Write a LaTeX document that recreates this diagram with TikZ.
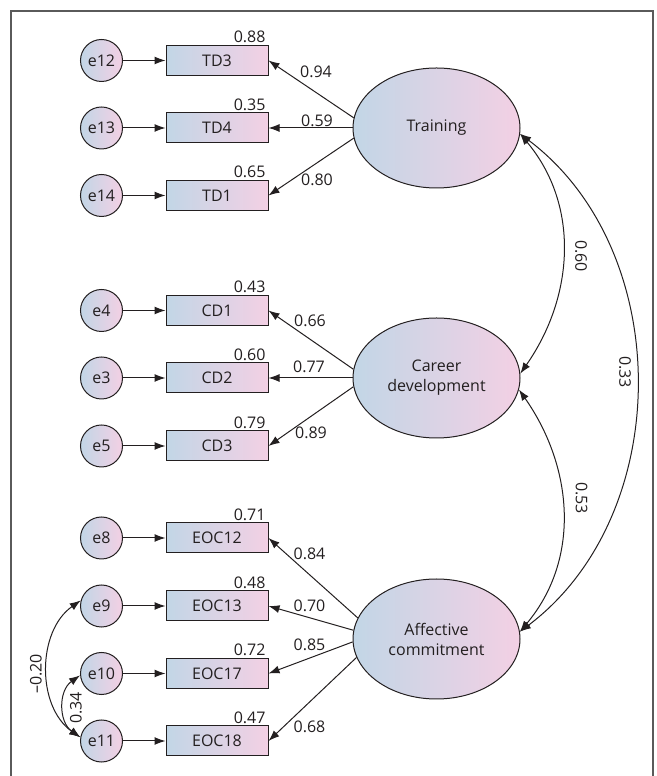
\documentclass[tikz,border=0pt]{standalone}
\usepackage{fontspec}
\setmainfont{Open Sans}
\usepackage{xcolor}
\usepackage{tikz}
\usetikzlibrary{shapes.geometric, arrows.meta}

\definecolor{semblue}{RGB}{194,214,230}
\definecolor{sempink}{RGB}{243,208,228}
\definecolor{semline}{RGB}{35,31,32}
\definecolor{semframe}{RGB}{90,90,90}

\begin{document}
\begin{tikzpicture}[x=1pt, y=1pt, >={Latex[length=11pt,width=8pt]},
    color=semline, line width=1pt, font=\fontsize{16}{20}\selectfont,
    err/.style={circle, draw, minimum size=42pt, inner sep=0pt, left color=semblue, right color=sempink},
    obs/.style={draw, minimum width=102pt, minimum height=30pt, inner sep=0pt, left color=semblue, right color=sempink},
    lat/.style={ellipse, draw, minimum width=167pt, minimum height=120pt, inner sep=0pt, align=center, left color=semblue, right color=sempink},
    est/.style={inner sep=0pt},
    rsq/.style={anchor=south east, inner sep=1.5pt, xshift=-1pt}]
    \useasboundingbox (0,0) rectangle (656,776);
    % 1. Khung
    \draw[semframe, line width=1.4pt] (11,-5) -- (11,765) -- (653,765) -- (653,-5);

    % 2. Bien tiem an
    \node[lat] (tr) at (436.5,648) {Training};
    \node[lat] (cd) at (436.5,398) {Career\\development};
    \node[lat] (ac) at (436.5,137) {Affective\\commitment};

    % 3. Bien quan sat va sai so
    \node[obs] (td3) at (217,715.5) {TD3};
    \node[obs] (td4) at (217,648) {TD4};
    \node[obs] (td1) at (217,580.5) {TD1};
    \node[obs] (cd1) at (217,465.5) {CD1};
    \node[obs] (cd2) at (217,398) {CD2};
    \node[obs] (cd3) at (217,330) {CD3};
    \node[obs] (eoc12) at (217,238) {EOC12};
    \node[obs] (eoc13) at (217,170) {EOC13};
    \node[obs] (eoc17) at (217,102.5) {EOC17};
    \node[obs] (eoc18) at (217,35) {EOC18};

    \node[err] (e12) at (101.5,715.5) {e12};
    \node[err] (e13) at (101.5,648) {e13};
    \node[err] (e14) at (101.5,580.5) {e14};
    \node[err] (e4) at (101.5,465.5) {e4};
    \node[err] (e3) at (101.5,398) {e3};
    \node[err] (e5) at (101.5,330) {e5};
    \node[err] (e8) at (101.5,238) {e8};
    \node[err] (e9) at (101.5,170) {e9};
    \node[err] (e10) at (101.5,102.5) {e10};
    \node[err] (e11) at (101.5,35) {e11};

    \draw[->] (e12) -- (td3);
    \draw[->] (e13) -- (td4);
    \draw[->] (e14) -- (td1);
    \draw[->] (e4) -- (cd1);
    \draw[->] (e3) -- (cd2);
    \draw[->] (e5) -- (cd3);
    \draw[->] (e8) -- (eoc12);
    \draw[->] (e9) -- (eoc13);
    \draw[->] (e10) -- (eoc17);
    \draw[->] (e11) -- (eoc18);

    % 4. He so R binh phuong
    \node[rsq] (r-td3) at (td3.north east) {0.88};
    \node[rsq] (r-td4) at (td4.north east) {0.35};
    \node[rsq] (r-td1) at (td1.north east) {0.65};
    \node[rsq] (r-cd1) at (cd1.north east) {0.43};
    \node[rsq] (r-cd2) at (cd2.north east) {0.60};
    \node[rsq] (r-cd3) at (cd3.north east) {0.79};
    \node[rsq] (r-eoc12) at (eoc12.north east) {0.71};
    \node[rsq] (r-eoc13) at (eoc13.north east) {0.48};
    \node[rsq] (r-eoc17) at (eoc17.north east) {0.72};
    \node[rsq] (r-eoc18) at (eoc18.north east) {0.47};

    % 5. He so tai nhan to
    \draw[->] (tr.173) -- (td3.east);
    \draw[->] (tr.180) -- (td4.east);
    \draw[->] (tr.187) -- (td1.east);
    \draw[->] (cd.174) -- (cd1.east);
    \draw[->] (cd.180) -- (cd2.east);
    \draw[->] (cd.186) -- (cd3.east);
    \draw[->] (ac.165) -- (eoc12.east);
    \draw[->] (ac.174) -- (eoc13.east);
    \draw[->] (ac.182) -- (eoc17.east);
    \draw[->] (ac.193) -- (eoc18.east);

    \node[est] (l-td3) at (316,704) {0.94};
    \node[est] (l-td4) at (317,655) {0.59};
    \node[est] (l-td1) at (317,596.5) {0.80};
    \node[est] (l-cd1) at (310,455) {0.66};
    \node[est] (l-cd2) at (309,409) {0.77};
    \node[est] (l-cd3) at (311,343) {0.89};
    \node[est] (l-eoc12) at (309.5,222) {0.84};
    \node[est] (l-eoc13) at (309.5,170.5) {0.70};
    \node[est] (l-eoc17) at (309.5,131.5) {0.85};
    \node[est] (l-eoc18) at (309.5,49.5) {0.68};

    % 6. Hiep phuong sai
    \draw[<->] (tr.-4) to[out=-50, in=55] (cd.3);
    \draw[<->] (cd.-8) to[out=-55, in=50] (ac.5);
    \draw[<->] (tr.-4) to[out=-37, in=37] (ac.5);
    \draw[<->] (e9.165) to[out=215, in=145] (e11.170);
    \draw[<->] (e10.185) to[out=215, in=145, looseness=1.1] (e11.170);

    \node[est, rotate=-90] (c-tr-cd) at (581,520) {0.60};
    \node[est, rotate=-90] (c-tr-ac) at (625,404) {0.33};
    \node[est, rotate=-90] (c-cd-ac) at (581.5,278) {0.53};
    \node[est, rotate=90] (c-e9-e11) at (36,102) {--0.20};
    \node[est, rotate=90] (c-e10-e11) at (76,68) {0.34};
\end{tikzpicture}
\end{document}
